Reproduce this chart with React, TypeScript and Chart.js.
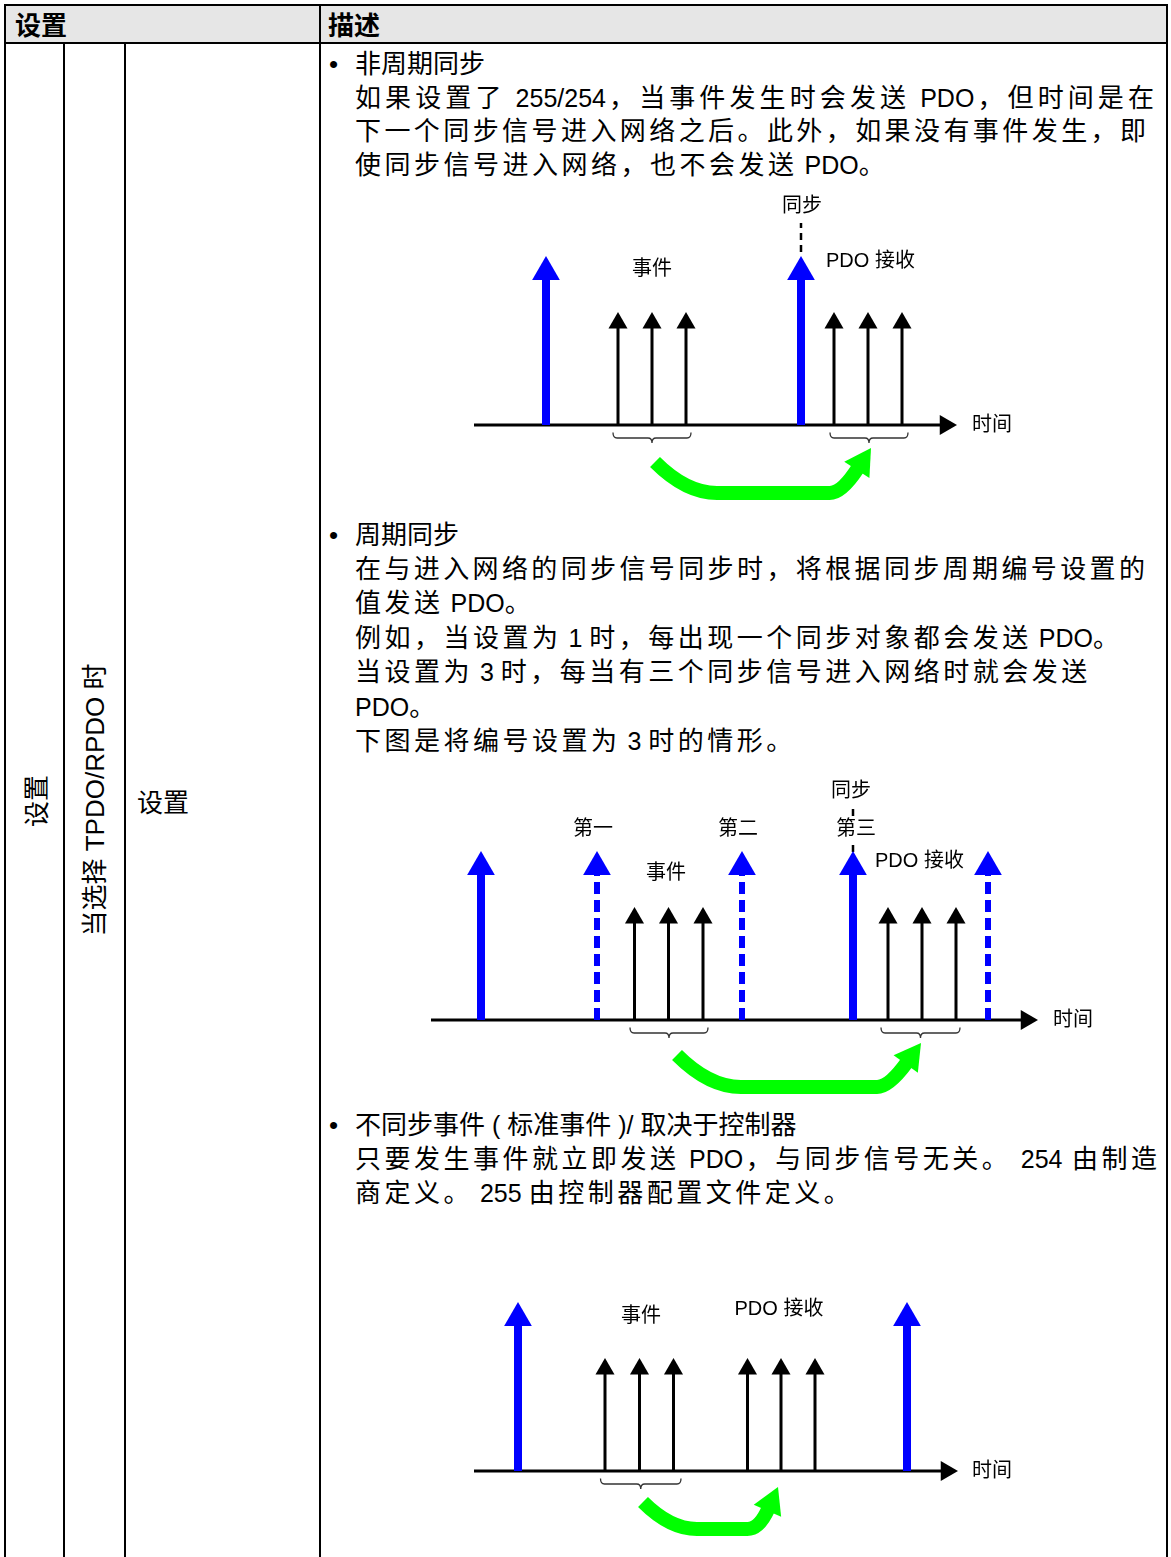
import React, { useEffect, useRef } from 'react';
import { Chart, registerables } from 'chart.js';

Chart.register(...registerables);

const FONT = '"Liberation Sans", Arial, "Noto Sans CJK SC", sans-serif';

// ---------- shared arrow heights (height above the time axis) ----------
const syncTip = [169];
const eventTip = [113];

// ---------- Diagram 1: 非周期同步 ----------
const d1Axis = [34, 517];
const d1SyncSolid = [106, 361];
const d1SyncDashed: number[] = [];
const d1Events = [178, 212, 246];
const d1Pdo = [394, 428, 462];
const d1Braces = [[173, 251], [390, 468]];
const d1Marker = [361, 173, 202];
const d1Green = [215, 431];
const d1LabelText = ['同步', '事件', 'PDO 接收', '时间'];
const d1LabelX = [362, 212, 386, 532];
const d1LabelY = [219, 156, 164, 0];

// ---------- Diagram 2: 周期同步 ----------
const d2Axis = [11, 618];
const d2SyncSolid = [61, 433];
const d2SyncDashed = [177, 322, 568];
const d2Events = [214.5, 248.5, 283];
const d2Pdo = [468, 502, 536];
const d2Braces = [[210, 288], [461, 540]];
const d2Marker = [433, 168, 212];
const d2Green = [257, 501];
const d2LabelText = ['第一', '第二', '第三', '同步', '事件', 'PDO 接收', '时间'];
const d2LabelX = [173, 318, 436, 431, 246, 455, 633];
const d2LabelY = [191, 191, 191, 229, 147, 158.5, 0];

// ---------- Diagram 3: 不同步事件 ----------
const d3Axis = [14, 498];
const d3SyncSolid = [58, 447];
const d3SyncDashed: number[] = [];
const d3Events = [145, 179.5, 213.5];
const d3Pdo = [287.5, 321, 355];
const d3Braces = [[140.5, 221]];
const d3Green = [183, 318];
const d3LabelText = ['事件', 'PDO 接收', '时间'];
const d3LabelX = [181, 274.5, 512];
const d3LabelY = [155, 162, 0];

// ---------- Text ----------
const s1Title = '非周期同步';
const s1Lines = [
  '如果设置了 255/254，当事件发生时会发送 PDO，但时间是在',
  '下一个同步信号进入网络之后。此外，如果没有事件发生，即',
  '使同步信号进入网络，也不会发送 PDO。',
];
const s2Title = '周期同步';
const s2Lines = [
  '在与进入网络的同步信号同步时，将根据同步周期编号设置的',
  '值发送 PDO。',
  '例如，当设置为 1 时，每出现一个同步对象都会发送 PDO。',
  '当设置为 3 时，每当有三个同步信号进入网络时就会发送',
  'PDO。',
  '下图是将编号设置为 3 时的情形。',
];
const s3Title = '不同步事件 ( 标准事件 )/ 取决于控制器';
const s3Lines = [
  '只要发生事件就立即发送 PDO，与同步信号无关。 254 由制造',
  '商定义。 255 由控制器配置文件定义。',
];

type Diagram = {
  left: number; top: number; width: number; height: number; yMin: number;
  axis: number[]; solid: number[]; dashed: number[]; events: number[];
  braces: number[][]; marker: number[] | null; green: number[];
  gStart: number; gBottom: number; gTip: number; gAngle: number;
  labelText: string[]; labelX: number[]; labelY: number[]; leftAligned: string[]; bgLabels: string[];
};

const diagrams: Diagram[] = [
  {
    left: 440, top: 185, width: 600, height: 330, yMin: -90,
    axis: d1Axis, solid: d1SyncSolid, dashed: d1SyncDashed, events: [...d1Events, ...d1Pdo],
    braces: d1Braces, marker: d1Marker, green: d1Green,
    gStart: 37, gBottom: 68, gTip: 23, gAngle: -57,
    labelText: d1LabelText, labelX: d1LabelX, labelY: d1LabelY,
    leftAligned: ['PDO 接收', '时间'], bgLabels: [],
  },
  {
    left: 420, top: 775, width: 690, height: 330, yMin: -85,
    axis: d2Axis, solid: d2SyncSolid, dashed: d2SyncDashed, events: [...d2Events, ...d2Pdo],
    braces: d2Braces, marker: d2Marker, green: d2Green,
    gStart: 35, gBottom: 67, gTip: 23, gAngle: -54,
    labelText: d2LabelText, labelX: d2LabelX, labelY: d2LabelY,
    leftAligned: ['PDO 接收', '时间'], bgLabels: ['第三'],
  },
  {
    left: 460, top: 1280, width: 580, height: 277, yMin: -86,
    axis: d3Axis, solid: d3SyncSolid, dashed: d3SyncDashed, events: [...d3Events, ...d3Pdo],
    braces: d3Braces, marker: null, green: d3Green,
    gStart: 31, gBottom: 58, gTip: 16, gAngle: -66,
    labelText: d3LabelText, labelX: d3LabelX, labelY: d3LabelY,
    leftAligned: ['PDO 接收', '时间'], bgLabels: [],
  },
];

const BLUE = '#0000ff';
const GREEN = '#00ff00';

function DiagramChart({ d }: { d: Diagram }) {
  const ref = useRef<HTMLCanvasElement>(null);
  useEffect(() => {
    const canvas = ref.current;
    if (!canvas) return;
    const rBlue = 16;
    const rBlack = 11;
    const rAxis = 11.5;
    const shafts = (xs: number[], h: number) =>
      xs.flatMap((x) => [{ x, y: 0 }, { x, y: h }, { x, y: null as any }]);
    const heads = (xs: number[], y: number) => xs.map((x) => ({ x, y }));
    const lineDs = (data: any[], color: string, width: number, dash: number[] = []) => ({
      data, showLine: true, borderColor: color, backgroundColor: color, borderWidth: width,
      borderDash: dash, pointRadius: 0, pointHoverRadius: 0, spanGaps: false, clip: false as any,
    });
    const headDs = (data: any[], color: string, r: number, rot = 0) => ({
      data, showLine: false, pointStyle: 'triangle', pointRadius: r, pointHoverRadius: r,
      pointRotation: rot, pointBackgroundColor: color, pointBorderColor: color, pointBorderWidth: 0,
      backgroundColor: color, borderColor: color, clip: false as any,
    });
    const sTip = syncTip[0];
    const eTip = eventTip[0];
    const axisEnd = d.axis[1] - rAxis;
    const datasets: any[] = [
      headDs(heads([...d.solid, ...d.dashed], sTip - rBlue), BLUE, rBlue),
      headDs(heads(d.events, eTip - rBlack), '#000', rBlack),
      headDs([{ x: axisEnd, y: 0 }], '#000', rAxis, 90),
      lineDs(shafts(d.solid, sTip - rBlue), BLUE, 8),
      lineDs(shafts(d.dashed, sTip - rBlue), BLUE, 6, [12, 6]),
      lineDs(shafts(d.events, eTip - rBlack), '#000', 3),
      lineDs([{ x: d.axis[0], y: 0 }, { x: axisEnd, y: 0 }], '#000', 3),
    ];
    if (d.marker) {
      datasets.push(lineDs([{ x: d.marker[0], y: d.marker[1] }, { x: d.marker[0], y: d.marker[2] }], '#000', 2.5, [7, 5]));
    }

    const overlay = {
      id: 'overlay',
      afterDatasetsDraw(chart: any) {
        const ctx = chart.ctx as CanvasRenderingContext2D;
        const xs = chart.scales.x;
        const ys = chart.scales.y;
        const ay = ys.getPixelForValue(0);
        ctx.save();
        // braces
        ctx.strokeStyle = '#333';
        ctx.lineWidth = 1.3;
        d.braces.forEach(([a, b]) => {
          const x0 = xs.getPixelForValue(a);
          const x1 = xs.getPixelForValue(b);
          const xm = (x0 + x1) / 2;
          const y0 = ay + 7.5;
          const y1 = ay + 13;
          const y2 = ay + 18;
          const q = 4;
          ctx.beginPath();
          ctx.moveTo(x0, y0);
          ctx.quadraticCurveTo(x0, y1, x0 + q, y1);
          ctx.lineTo(xm - q, y1);
          ctx.quadraticCurveTo(xm, y1, xm, y2);
          ctx.quadraticCurveTo(xm, y1, xm + q, y1);
          ctx.lineTo(x1 - q, y1);
          ctx.quadraticCurveTo(x1, y1, x1, y0);
          ctx.stroke();
        });
        // green curved arrow
        const sx = xs.getPixelForValue(d.green[0]);
        const ex = xs.getPixelForValue(d.green[1]);
        const sy = ay + d.gStart;
        const by = ay + d.gBottom;
        const ty = ay + d.gTip;
        const ang = (d.gAngle * Math.PI) / 180;
        const ux = Math.cos(ang);
        const uy = Math.sin(ang);
        const L = 26;
        const hw = 15;
        const bmx = ex - ux * L;
        const bmy = ty - uy * L;
        const t = (by - bmy) / -uy;
        const cx2 = bmx - ux * t;
        const dd = by - sy;
        ctx.strokeStyle = GREEN;
        ctx.fillStyle = GREEN;
        ctx.lineWidth = 14;
        ctx.lineCap = 'butt';
        ctx.lineJoin = 'round';
        ctx.beginPath();
        ctx.moveTo(sx, sy);
        ctx.quadraticCurveTo(sx + dd, by, sx + 2 * dd, by);
        ctx.lineTo(cx2 - 12, by);
        ctx.quadraticCurveTo(cx2, by, bmx + ux * 2, bmy + uy * 2);
        ctx.stroke();
        const nx = -uy;
        const ny = ux;
        ctx.beginPath();
        ctx.moveTo(ex, ty);
        ctx.lineTo(bmx + nx * hw, bmy + ny * hw);
        ctx.lineTo(bmx - nx * hw, bmy - ny * hw);
        ctx.closePath();
        ctx.fill();
        // labels
        ctx.font = `20px ${FONT}`;
        ctx.textBaseline = 'middle';
        d.labelText.forEach((text, i) => {
          const px = xs.getPixelForValue(d.labelX[i]);
          const py = ys.getPixelForValue(d.labelY[i]);
          const left = d.leftAligned.includes(text);
          const w = ctx.measureText(text).width;
          const x0 = left ? px : px - w / 2;
          if (d.bgLabels.includes(text)) {
            ctx.fillStyle = '#fff';
            ctx.fillRect(x0 - 2, py - 12, w + 4, 24);
          }
          ctx.fillStyle = '#000';
          ctx.textAlign = 'left';
          ctx.fillText(text, x0, py);
        });
        ctx.restore();
      },
    };

    const chart = new Chart(canvas, {
      type: 'scatter',
      data: { datasets },
      options: {
        responsive: false,
        maintainAspectRatio: false,
        devicePixelRatio: 1,
        animation: false,
        events: [],
        layout: { padding: 0, autoPadding: false },
        plugins: { legend: { display: false }, tooltip: { enabled: false } },
        scales: {
          x: { type: 'linear', min: 0, max: d.width, display: false },
          y: { type: 'linear', min: d.yMin, max: d.yMin + d.height, display: false },
        },
      } as any,
      plugins: [overlay],
    });
    return () => chart.destroy();
  }, [d]);
  return (
    <canvas
      ref={ref}
      width={d.width}
      height={d.height}
      style={{ position: 'absolute', left: d.left, top: d.top, width: d.width, height: d.height }}
    />
  );
}

const isLatin = (s: string) => /^[\x20-\x7E]+$/.test(s);

function TextLine({ text, y, title, justifyTo }: { text: string; y: number; title?: boolean; justifyTo?: number }) {
  const parts = text.split(/([\x20-\x7E]+)/).filter((p) => p.length > 0);
  const style: React.CSSProperties = {
    position: 'absolute',
    left: 355,
    top: y - 17,
    height: 34,
    lineHeight: '34px',
    whiteSpace: justifyTo ? 'normal' : 'nowrap',
    color: '#000',
  };
  if (justifyTo) {
    style.width = justifyTo - 355;
    style.textAlign = 'justify';
    (style as any).textAlignLast = 'justify';
  }
  const cjkSpacing = title ? 0 : justifyTo ? 1 : 3.5;
  return (
    <div style={style}>
      {parts.map((p, i) =>
        isLatin(p) ? (
          <span key={i} style={{ fontSize: 25 }}>{p}</span>
        ) : (
          <span key={i} style={{ fontSize: 26, letterSpacing: cjkSpacing }}>{p}</span>
        )
      )}
    </div>
  );
}

function Bullet({ y }: { y: number }) {
  return (
    <div style={{ position: 'absolute', left: 329, top: y - 17, height: 34, lineHeight: '34px', fontSize: 26 }}>•</div>
  );
}

function Rotated({ text, cx, cy }: { text: string; cx: number; cy: number }) {
  return (
    <div
      style={{
        position: 'absolute', left: cx, top: cy, whiteSpace: 'nowrap', fontSize: 26, lineHeight: '30px',
        transform: 'translate(-50%, -50%) rotate(-90deg)',
      }}
    >
      {text}
    </div>
  );
}

function HLine({ x, y, w }: { x: number; y: number; w: number }) {
  return <div style={{ position: 'absolute', left: x, top: y, width: w, height: 2, background: '#000' }} />;
}
function VLine({ x, y, h }: { x: number; y: number; h: number }) {
  return <div style={{ position: 'absolute', left: x, top: y, width: 2, height: h, background: '#000' }} />;
}

export default function App() {
  const s1Y = [97.5, 131, 165];
  const s2Y = [569, 603, 637.5, 672, 706.5, 741];
  const s3Y = [1159, 1193];
  const s1J = [1155, 1147, 0];
  const s2J = [1146, 0, 0, 0, 0, 0];
  const s3J = [1158, 0];
  return (
    <div
      style={{
        position: 'absolute', left: 0, top: 0, width: 1171, height: 1557, overflow: 'hidden',
        background: '#fff', fontFamily: FONT, color: '#000',
      }}
    >
      {/* header background */}
      <div style={{ position: 'absolute', left: 5, top: 5, width: 1162, height: 38, background: '#e6e6e6' }} />
      <div style={{ position: 'absolute', left: 15, top: 9, fontSize: 26, fontWeight: 'bold', lineHeight: '34px' }}>设置</div>
      <div style={{ position: 'absolute', left: 328, top: 9, fontSize: 26, fontWeight: 'bold', lineHeight: '34px' }}>描述</div>

      {/* table grid */}
      <HLine x={4} y={4} w={1164} />
      <HLine x={4} y={42} w={1164} />
      <VLine x={4} y={4} h={1553} />
      <VLine x={63} y={42} h={1515} />
      <VLine x={124} y={42} h={1515} />
      <VLine x={318.5} y={4} h={1553} />
      <VLine x={1166} y={4} h={1553} />

      {/* left cells */}
      <Rotated text="设置" cx={37} cy={801} />
      <Rotated text="当选择 TPDO/RPDO 时" cx={95} cy={800} />
      <div style={{ position: 'absolute', left: 137, top: 786, fontSize: 26, lineHeight: '34px' }}>设置</div>

      {/* section 1 */}
      <Bullet y={64} />
      <TextLine text={s1Title} y={64} title />
      {s1Lines.map((t, i) => (
        <TextLine key={i} text={t} y={s1Y[i]} justifyTo={s1J[i] || undefined} />
      ))}

      {/* section 2 */}
      <Bullet y={535} />
      <TextLine text={s2Title} y={535} title />
      {s2Lines.map((t, i) => (
        <TextLine key={i} text={t} y={s2Y[i]} justifyTo={s2J[i] || undefined} />
      ))}

      {/* section 3 */}
      <Bullet y={1125} />
      <TextLine text={s3Title} y={1125} title />
      {s3Lines.map((t, i) => (
        <TextLine key={i} text={t} y={s3Y[i]} justifyTo={s3J[i] || undefined} />
      ))}

      {diagrams.map((d, i) => (
        <DiagramChart key={i} d={d} />
      ))}
    </div>
  );
}
